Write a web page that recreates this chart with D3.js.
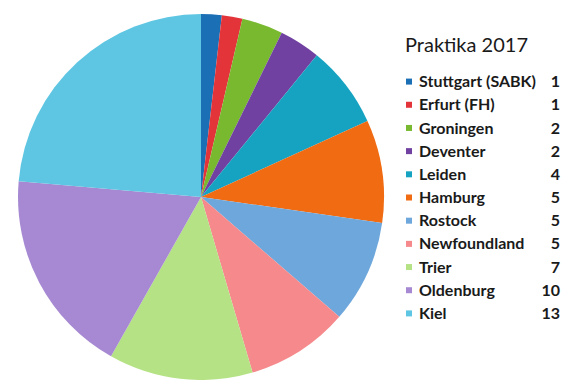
<!DOCTYPE html>
<html lang="de">
<head>
<meta charset="UTF-8">
<title>Praktika 2017</title>
<script src="https://d3js.org/d3.v7.min.js"></script>
<style>
    body, html { margin: 0; background: #fff; overflow: hidden; }
    svg { display: block; }
    .legend text { font-family: 'Lato', sans-serif; font-weight: 700; fill: #1a1a1a; }
</style>
</head>
<body>
<svg id="chart" width="565" height="380"></svg>
<script>
    const cities = ["Stuttgart (SABK)", "Erfurt (FH)", "Groningen", "Deventer", "Leiden", "Hamburg",
                    "Rostock", "Newfoundland", "Trier", "Oldenburg", "Kiel"];
    const counts = [1, 1, 2, 2, 4, 5, 5, 5, 7, 10, 13];
    const colors = ["#1b6fb4", "#e3343a", "#79b92f", "#7041a0", "#16a3c1", "#f06b12",
                    "#6ea7dc", "#f5898b", "#b6e286", "#a689d2", "#5ec6e2"];
    const title = "Praktika 2017";

    const svg = d3.select("#chart");
    const data = cities.map((c, i) => ({ city: c, n: counts[i], color: colors[i] }));

    // pie, clockwise from 12 o'clock
    const pie = d3.pie().value(d => d.n).sort(null);
    const arc = d3.arc().innerRadius(0).outerRadius(183);

    svg.append("g")
        .attr("transform", "translate(201,197)")
        .selectAll("path")
        .data(pie(data))
        .join("path")
        .attr("d", arc)
        .attr("fill", d => d.data.color);

    // legend
    const lg = svg.append("g").attr("class", "legend");
    lg.append("text")
        .attr("x", 405).attr("y", 52)
        .style("font-size", "20px").style("font-weight", 400)
        .text(title);

    const y = d3.scaleBand().domain(cities).range([70, 325]);

    const rows = lg.selectAll("g.row")
        .data(data)
        .join("g")
        .attr("class", "row")
        .attr("transform", d => `translate(0,${y(d.city) + y.bandwidth() / 2})`);

    rows.append("rect")
        .attr("x", 406).attr("y", -3)
        .attr("width", 6).attr("height", 6)
        .attr("fill", d => d.color);
    rows.append("text")
        .attr("x", 419).attr("dy", "0.35em")
        .style("font-size", "16px")
        .text(d => d.city);
    rows.append("text")
        .attr("x", 560).attr("dy", "0.35em")
        .attr("text-anchor", "end")
        .style("font-size", "16px")
        .text(d => d.n);
</script>
</body>
</html>
